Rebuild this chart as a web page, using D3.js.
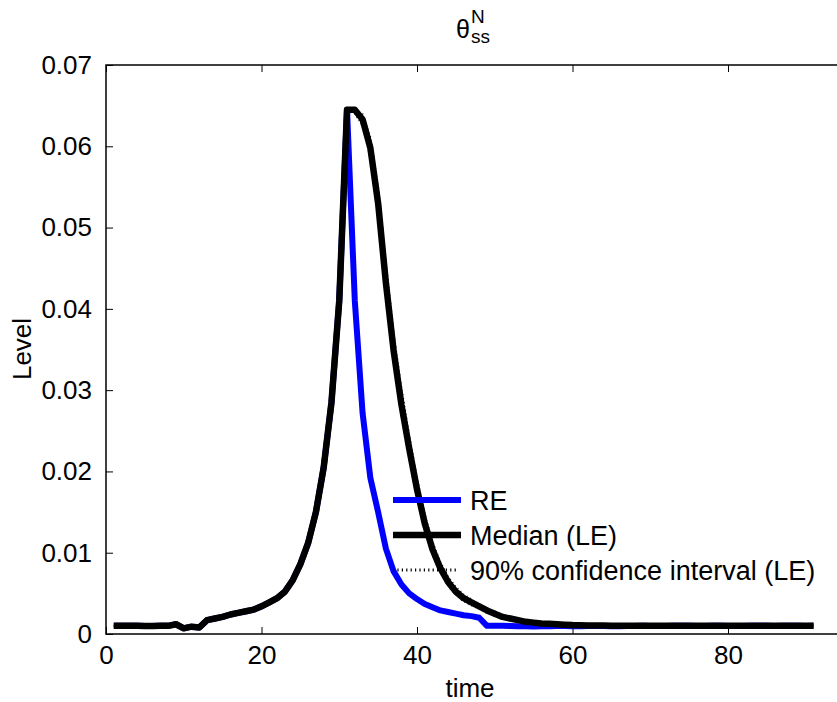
<!DOCTYPE html>
<html>
<head>
<meta charset="utf-8">
<script src="https://cdn.jsdelivr.net/npm/d3@7"></script>
<style>
  body { margin: 0; background: #fff; }
  svg { display: block; font-family: "Liberation Sans", Arial, Helvetica, sans-serif; }
</style>
</head>
<body>
<svg id="chart" width="837" height="702"></svg>
<script>
// time steps 1..91
const time = d3.range(1, 92);

const median = [
  0.0010, 0.0010, 0.0010, 0.0010, 0.00098, 0.00098, 0.0010, 0.0010, 0.0012, 0.0007,
  0.0009, 0.0008, 0.0017, 0.0019, 0.0021, 0.0024, 0.0026, 0.0028, 0.0030, 0.0034,
  0.0039, 0.0044, 0.0052, 0.0066, 0.0086, 0.0112, 0.0150, 0.0205, 0.0285, 0.0410,
  0.0645, 0.0645, 0.0633, 0.0598, 0.0530, 0.0432, 0.0348, 0.0282, 0.0228, 0.0178,
  0.0136, 0.0104, 0.0081, 0.0064, 0.0052, 0.0044, 0.0039, 0.0034, 0.0029, 0.0025,
  0.0021, 0.0019, 0.0017, 0.0015, 0.0014, 0.0013, 0.00125, 0.0012, 0.00115, 0.0011,
  0.00108, 0.00106, 0.00105, 0.00104, 0.00103, 0.00102, 0.00101, 0.0010, 0.0010, 0.0010,
  0.0010, 0.0010, 0.0010, 0.0010, 0.0010, 0.0010, 0.0010, 0.0010, 0.0010, 0.0010,
  0.0010, 0.0010, 0.0010, 0.0010, 0.0010, 0.0010, 0.0010, 0.0010, 0.0010, 0.0010,
  0.0010
];

const re = [
  0.0010, 0.0010, 0.0010, 0.0010, 0.00098, 0.00098, 0.0010, 0.0010, 0.0012, 0.0007,
  0.0009, 0.0008, 0.0017, 0.0019, 0.0021, 0.0024, 0.0026, 0.0028, 0.0030, 0.0034,
  0.0039, 0.0044, 0.0052, 0.0066, 0.0086, 0.0112, 0.0150, 0.0205, 0.0285, 0.0410,
  0.0645, 0.0410, 0.0272, 0.0192, 0.0150, 0.0105, 0.0077, 0.0061, 0.0050, 0.0043,
  0.0037, 0.0033, 0.0029, 0.0027, 0.0025, 0.0023, 0.0022, 0.0020, 0.0010, 0.0010,
  0.0010, 0.00097, 0.00095, 0.00096, 0.00093, 0.00095, 0.00094, 0.00097, 0.00098, 0.00096,
  0.00095, 0.00097, 0.00099, 0.00098, 0.00096, 0.00095, 0.00097, 0.00099, 0.00101, 0.00098,
  0.00097, 0.00099, 0.00102, 0.00103, 0.00101, 0.00099, 0.00098, 0.00100, 0.00101, 0.00099,
  0.00098, 0.00099, 0.00100, 0.00101, 0.00100, 0.00099, 0.00100, 0.00101, 0.00100, 0.00099,
  0.0010
];

const ciUpper = [
  0.0010, 0.0010, 0.0010, 0.0010, 0.00098, 0.00098, 0.0010, 0.0010, 0.0012, 0.0007,
  0.0009, 0.0008, 0.0017, 0.0019, 0.0021, 0.0024, 0.0026, 0.0028, 0.0030, 0.0034,
  0.0039, 0.0044, 0.0052, 0.0066, 0.0086, 0.0112, 0.0150, 0.0205, 0.0285, 0.0410,
  0.0645, 0.0645, 0.0640, 0.0612, 0.0552, 0.0458, 0.0372, 0.0304, 0.0246, 0.0193,
  0.0148, 0.0114, 0.0089, 0.0071, 0.0058, 0.0049, 0.0043, 0.0037, 0.0032, 0.0028,
  0.0024, 0.0021, 0.0019, 0.0017, 0.0015, 0.0014, 0.00135, 0.0013, 0.00125, 0.0012,
  0.00118, 0.00116, 0.00115, 0.00114, 0.00113, 0.00112, 0.00111, 0.0011, 0.0011, 0.0011,
  0.0011, 0.0011, 0.0011, 0.0011, 0.0011, 0.0011, 0.0011, 0.0011, 0.0011, 0.0011,
  0.0011, 0.0011, 0.0011, 0.0011, 0.0011, 0.0011, 0.0011, 0.0011, 0.0011, 0.0011,
  0.0011
];

const ciLower = [
  0.0010, 0.0010, 0.0010, 0.0010, 0.00098, 0.00098, 0.0010, 0.0010, 0.0012, 0.0007,
  0.0009, 0.0008, 0.0017, 0.0019, 0.0021, 0.0024, 0.0026, 0.0028, 0.0030, 0.0034,
  0.0039, 0.0044, 0.0052, 0.0066, 0.0086, 0.0112, 0.0150, 0.0205, 0.0285, 0.0410,
  0.0645, 0.0640, 0.0625, 0.0585, 0.0512, 0.0414, 0.0333, 0.0268, 0.0215, 0.0167,
  0.0127, 0.0097, 0.0075, 0.0059, 0.0048, 0.0040, 0.0035, 0.0031, 0.0026, 0.0022,
  0.0019, 0.0017, 0.0015, 0.0014, 0.0013, 0.0012, 0.00115, 0.0011, 0.00106, 0.00102,
  0.00100, 0.00099, 0.00098, 0.00097, 0.00096, 0.00095, 0.00095, 0.00095, 0.00095, 0.00095,
  0.00095, 0.00095, 0.00095, 0.00095, 0.00095, 0.00095, 0.00095, 0.00095, 0.00095, 0.00095,
  0.00095, 0.00095, 0.00095, 0.00095, 0.00095, 0.00095, 0.00095, 0.00095, 0.00095, 0.00095,
  0.00095
];

const xTicks = [0, 20, 40, 60, 80];
const yTicks = [0, 0.01, 0.02, 0.03, 0.04, 0.05, 0.06, 0.07];
const legendLabels = ["RE", "Median (LE)", "90% confidence interval (LE)"];

const svg = d3.select("#chart");
const W = 837;
const FS = 26;

// axes box runs past the right edge of the picture (xlim 0..100)
const x = d3.scaleLinear().domain([0, 100]).range([106, 883.5]);
const y = d3.scaleLinear().domain([0, 0.07]).range([634, 65]);

svg.append("defs").append("clipPath").attr("id", "plotclip")
  .append("rect").attr("x", 106).attr("y", 65).attr("width", 777.5).attr("height", 569);

const line = d3.line()
  .x((d, i) => x(time[i]))
  .y(d => y(d));

const plot = svg.append("g").attr("clip-path", "url(#plotclip)");

plot.append("path").datum(re)
  .attr("d", line).attr("fill", "none")
  .attr("stroke", "#0000ff").attr("stroke-width", 6).attr("stroke-linejoin", "round");

plot.append("path").datum(median)
  .attr("d", line).attr("fill", "none")
  .attr("stroke", "#000").attr("stroke-width", 6.5).attr("stroke-linejoin", "round");

[ciUpper, ciLower].forEach(ci => {
  plot.append("path").datum(ci)
    .attr("d", line).attr("fill", "none")
    .attr("stroke", "#000").attr("stroke-width", 1.5)
    .attr("stroke-dasharray", "1,3");
});

// axes
const xAxisB = d3.axisBottom(x).tickValues(xTicks).tickSize(-7).tickPadding(12).tickFormat(d3.format("d"));
const xAxisT = d3.axisTop(x).tickValues(xTicks).tickSize(-7).tickFormat("");
const yAxisL = d3.axisLeft(y).tickValues(yTicks).tickSize(-7).tickPadding(14)
  .tickFormat(d => d === 0 ? "0" : d3.format(".2f")(d));

function styleAxis(g) {
  g.select(".domain").remove();
  g.selectAll(".tick line").attr("stroke", "#000").attr("stroke-width", 1);
  g.selectAll(".tick text").attr("fill", "#000").style("font-size", FS + "px")
    .style("font-family", "\"Liberation Sans\", Arial, sans-serif");
}

svg.append("g").attr("transform", "translate(0,634)").call(xAxisB).call(styleAxis);
svg.append("g").attr("transform", "translate(0,65)").call(xAxisT).call(styleAxis);
svg.append("g").attr("transform", "translate(106,0)").call(yAxisL).call(styleAxis);

// box edges (left, bottom, top)
svg.append("path")
  .attr("d", `M${W},65H106V634H${W}`)
  .attr("fill", "none").attr("stroke", "#000").attr("stroke-width", 1.5);

// labels
svg.append("text").attr("x", 470).attr("y", 697).attr("text-anchor", "middle")
  .style("font-size", FS + "px").text("time");

svg.append("text").attr("transform", "translate(31,349) rotate(-90)")
  .attr("text-anchor", "middle").style("font-size", FS + "px").text("Level");

// title θ^N_ss
svg.append("text").attr("x", 456).attr("y", 38).style("font-size", "25px").text("θ");
svg.append("text").attr("x", 471).attr("y", 23).style("font-size", "19px").text("N");
svg.append("text").attr("x", 471).attr("y", 43).style("font-size", "19px").text("ss");

// legend (no box)
const legendStyles = [
  { color: "#0000ff", width: 6, dash: null },
  { color: "#000", width: 6.5, dash: null },
  { color: "#000", width: 3, dash: "1.2,3.2" }
];
const legendY = [500, 535, 570];
const lg = svg.append("g");
legendLabels.forEach((label, i) => {
  const s = legendStyles[i];
  lg.append("line")
    .attr("x1", 393).attr("x2", s.dash ? 458 : 461).attr("y1", legendY[i]).attr("y2", legendY[i])
    .attr("stroke", s.color).attr("stroke-width", s.width)
    .attr("stroke-dasharray", s.dash);
  lg.append("text").attr("x", 470).attr("y", legendY[i] + 9.5)
    .style("font-size", "27px").text(label);
});
</script>
</body>
</html>
